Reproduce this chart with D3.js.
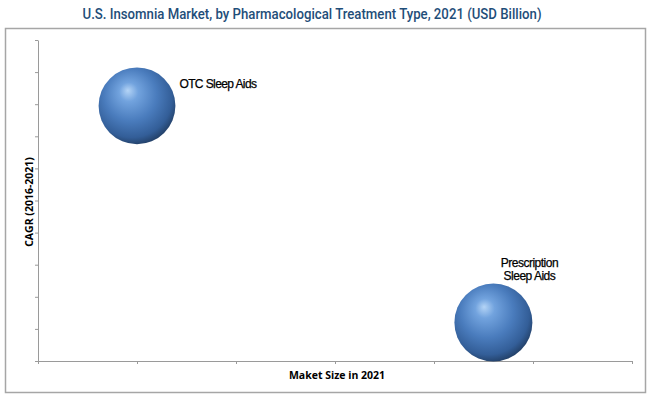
<!DOCTYPE html>
<html>
<head>
<meta charset="utf-8">
<script src="https://cdn.jsdelivr.net/npm/d3@7"></script>
<style>
  body { margin: 0; background: #fff; }
  svg { display: block; }
</style>
</head>
<body>
<script>
var segments = ["OTC Sleep Aids", "Prescription Sleep Aids"];
var marketSize = [1.0, 4.6];     // x, position on Maket Size axis
var cagr = [7.95, 1.2];          // y, CAGR position
var bubbleSize = [0.97, 1.0];    // relative bubble area
var xTicks = [0, 1, 2, 3, 4, 5, 6];
var yTicks = [0, 1, 2, 3, 4, 5, 6, 7, 8, 9, 10];

var width = 650, height = 398;
var margin = { top: 40, right: 18, bottom: 37, left: 38 };

var svg = d3.select("body")
    .append("svg")
    .attr("width", width)
    .attr("height", height);

// gradient for the spheres
var defs = svg.append("defs");
var grad = defs.append("radialGradient")
    .attr("id", "sphere")
    .attr("cx", "44%").attr("cy", "40%").attr("r", "62%")
    .attr("fx", "38%").attr("fy", "30%");
grad.append("stop").attr("offset", "0%").attr("stop-color", "#b4d4f6");
grad.append("stop").attr("offset", "20%").attr("stop-color", "#72a3de");
grad.append("stop").attr("offset", "55%").attr("stop-color", "#4a7cbd");
grad.append("stop").attr("offset", "85%").attr("stop-color", "#335e98");
grad.append("stop").attr("offset", "100%").attr("stop-color", "#223f66");

// outer frame
svg.append("rect")
    .attr("x", 5.5).attr("y", 28.5)
    .attr("width", 640).attr("height", 364)
    .attr("fill", "none")
    .attr("stroke", "#a6a6a6")
    .attr("stroke-width", 1.5);

// title
svg.append("text")
    .text("U.S. Insomnia Market, by Pharmacological Treatment Type, 2021 (USD Billion)")
    .attr("x", 312)
    .attr("y", 19)
    .attr("text-anchor", "middle")
    .attr("textLength", 459)
    .attr("lengthAdjust", "spacingAndGlyphs")
    .style("font-family", "'Roboto', sans-serif")
    .style("font-weight", "500")
    .style("font-size", "14px")
    .attr("fill", "#1f4e79");

var x = d3.scaleLinear()
    .domain([0, 6])
    .range([margin.left, width - margin.right]);

var y = d3.scaleLinear()
    .domain([0, 10])
    .range([height - margin.bottom, margin.top]);

var r = d3.scaleSqrt()
    .domain([0, 1])
    .range([0, 39]);

// Eixo Y
var gy = svg.append("g")
    .attr("transform", "translate(" + margin.left + ",0)")
    .call(d3.axisLeft(y).tickValues(yTicks).tickFormat("").tickSize(3).tickSizeOuter(0));
gy.selectAll("path, line").attr("stroke", "#9a9a9a");

// Eixo X
var gx = svg.append("g")
    .attr("transform", "translate(0," + (height - margin.bottom) + ")")
    .call(d3.axisBottom(x).tickValues(xTicks).tickFormat("").tickSize(3).tickSizeOuter(0));
gx.selectAll("path, line").attr("stroke", "#9a9a9a");

var data = segments.map(function(s, i) {
    return { name: s, x: marketSize[i], y: cagr[i], size: bubbleSize[i] };
});

svg.selectAll("circle.bubble")
    .data(data)
    .enter()
    .append("circle")
    .attr("class", "bubble")
    .attr("cx", d => x(d.x))
    .attr("cy", d => y(d.y))
    .attr("r", d => r(d.size))
    .attr("fill", "url(#sphere)");

// rótulos das bolhas
var labelFont = "'Liberation Sans', Arial, sans-serif";
svg.append("text")
    .text(data[0].name)
    .attr("x", x(data[0].x) + r(data[0].size) + 4)
    .attr("y", y(data[0].y) - 18)
    .style("font-family", labelFont)
    .style("font-size", "12px")
    .style("letter-spacing", "-0.6px")
    .attr("fill", "#000")
    .attr("stroke", "#000")
    .attr("stroke-width", 0.25);

var pl = svg.append("text")
    .attr("text-anchor", "middle")
    .style("font-family", labelFont)
    .style("font-size", "12px")
    .style("letter-spacing", "-0.5px")
    .attr("fill", "#000")
    .attr("stroke", "#000")
    .attr("stroke-width", 0.25);
pl.append("tspan")
    .text("Prescription")
    .attr("x", x(data[1].x) + 36)
    .attr("y", y(data[1].y) - 55);
pl.append("tspan")
    .text("Sleep Aids")
    .attr("x", x(data[1].x) + 36)
    .attr("y", y(data[1].y) - 42);

// rótulo de eixo y
svg.append("text")
    .text("CAGR (2016-2021)")
    .attr("transform", "rotate(-90)")
    .attr("x", -202)
    .attr("y", 33)
    .attr("text-anchor", "middle")
    .style("font-family", "'Open Sans', 'Liberation Sans', sans-serif")
    .style("font-weight", "bold")
    .style("font-size", "10.5px");

// rótulo de eixo x
svg.append("text")
    .text("Maket Size in 2021")
    .attr("x", 337)
    .attr("y", 379)
    .attr("text-anchor", "middle")
    .style("font-family", "'Open Sans', 'Liberation Sans', sans-serif")
    .style("font-weight", "bold")
    .style("font-size", "10.5px");
</script>
</body>
</html>
